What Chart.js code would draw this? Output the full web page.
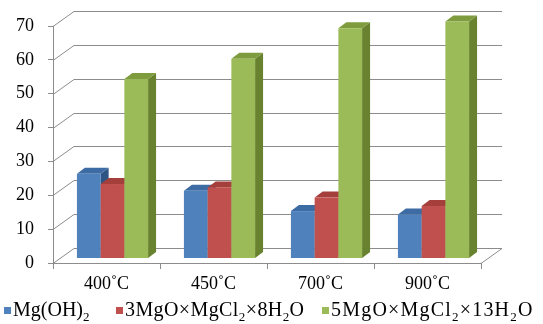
<!DOCTYPE html>
<html>
<head>
<meta charset="utf-8">
<script src="https://cdn.jsdelivr.net/npm/chart.js@4/dist/chart.umd.min.js"></script>
<style>
    html, body { margin: 0; padding: 0; background: #fff; }
    #wrap { position: relative; width: 543px; height: 324px; }
    .legend-item { position: absolute; top: 298px; font-family: 'Liberation Serif', 'Times New Roman', serif; font-size: 20px; line-height: 22px; color: #000; white-space: nowrap; }
    .legend-item i { display: inline-block; width: 7px; height: 7px; margin-right: 2px; vertical-align: 2px; }
    .legend-item sub { font-size: 13px; vertical-align: -5px; line-height: 0; }
</style>
</head>
<body>
<div id="wrap">
    <canvas id="chart" width="543" height="324"></canvas>
    <div class="legend-item" style="left:4px"><i style="background:#4F81BD"></i>Mg(OH)<sub>2</sub></div>
    <div class="legend-item" style="left:116px; letter-spacing: 0.4px"><i style="background:#C0504D"></i>3MgO×MgCl<sub>2</sub>×8H<sub>2</sub>O</div>
    <div class="legend-item" style="left:322px; letter-spacing: 1.2px"><i style="background:#9BBB59"></i>5MgO×MgCl<sub>2</sub>×13H<sub>2</sub>O</div>
</div>
<script>
const temperatures = ['400\u02DAC', '450\u02DAC', '700\u02DAC', '900\u02DAC'];
const mgOH2 = [25, 20, 14, 13];
const phase3 = [22, 21, 18, 15.5];
const phase5 = [53, 59, 68, 70];

const seriesNames = ['Mg(OH)2', '3MgO×MgCl2×8H2O', '5MgO×MgCl2×13H2O'];
// front, top, side
const faceColors = [
    ['#4F81BD', '#3D6BA3', '#2E5483'],
    ['#C0504D', '#A53F3C', '#8C3431'],
    ['#9BBB59', '#7E9C3E', '#68822F']
];

const gridColor = '#8c8c8c';
const wall = { dx: 21, dy: -15 };     // depth of back wall
const barShift = { dx: 6, dy: -4.5 }; // bar front plane
const barDepth = { dx: 8, dy: -6 };

const fake3d = {
    id: 'fake3d',
    beforeDatasetsDraw(chart) {
        const ctx = chart.ctx;
        const area = chart.chartArea;
        const yScale = chart.scales.y;

        // back wall + left wall lines
        ctx.save();
        ctx.strokeStyle = gridColor;
        ctx.lineWidth = 1;
        yScale.ticks.forEach(t => {
            const y = Math.round(yScale.getPixelForValue(t.value)) + 0.5;
            ctx.beginPath();
            ctx.moveTo(area.left, y);
            ctx.lineTo(area.left + wall.dx, y + wall.dy);
            ctx.lineTo(area.right + wall.dx, y + wall.dy);
            ctx.stroke();
        });
        const y0 = Math.round(yScale.getPixelForValue(0)) + 0.5;
        ctx.beginPath();
        ctx.moveTo(area.right, y0);
        ctx.lineTo(area.right + wall.dx, y0 + wall.dy);
        ctx.stroke();
        ctx.restore();

        // bars, left to right so faces overlap correctly
        const metas = chart.data.datasets.map((d, i) => chart.getDatasetMeta(i));
        const n = chart.data.labels.length;
        for (let j = 0; j < n; j++) {
            metas.forEach((meta, i) => {
                const bar = meta.data[j];
                const left = bar.x - bar.width / 2 + barShift.dx;
                const right = bar.x + bar.width / 2 + barShift.dx;
                const top = bar.y + barShift.dy;
                const bottom = bar.base + barShift.dy;
                const [front, topC, side] = faceColors[i];

                ctx.fillStyle = side;
                ctx.beginPath();
                ctx.moveTo(right, top);
                ctx.lineTo(right + barDepth.dx, top + barDepth.dy);
                ctx.lineTo(right + barDepth.dx, bottom + barDepth.dy);
                ctx.lineTo(right, bottom);
                ctx.closePath();
                ctx.fill();

                ctx.fillStyle = topC;
                ctx.beginPath();
                ctx.moveTo(left, top);
                ctx.lineTo(left + barDepth.dx, top + barDepth.dy);
                ctx.lineTo(right + barDepth.dx, top + barDepth.dy);
                ctx.lineTo(right, top);
                ctx.closePath();
                ctx.fill();

                ctx.fillStyle = front;
                ctx.fillRect(left, top, right - left, bottom - top);
            });
        }
        return false;
    }
};

const font = { family: "'Liberation Serif', 'Times New Roman', serif", size: 18 };

new Chart(document.getElementById('chart'), {
    type: 'bar',
    data: {
        labels: temperatures,
        datasets: [
            { label: seriesNames[0], data: mgOH2, backgroundColor: faceColors[0][0] },
            { label: seriesNames[1], data: phase3, backgroundColor: faceColors[1][0] },
            { label: seriesNames[2], data: phase5, backgroundColor: faceColors[2][0] }
        ]
    },
    options: {
        responsive: false,
        animation: false,
        layout: { padding: { top: 26, right: 62, bottom: 0, left: 0 } },
        datasets: { bar: { categoryPercentage: 0.665, barPercentage: 1.0 } },
        scales: {
            x: {
                afterFit: scale => { scale.height = 61; },
                grid: { display: true, drawOnChartArea: false, drawTicks: true, tickLength: 6, color: gridColor, offset: true },
                border: { display: true, color: gridColor },
                ticks: { color: '#000', font, padding: 4 }
            },
            y: {
                min: 0,
                max: 70,
                afterFit: scale => { scale.width = 53; },
                grid: { display: true, drawOnChartArea: false, drawTicks: true, tickLength: 5, color: gridColor },
                border: { display: true, color: gridColor },
                ticks: { stepSize: 10, color: '#000', font, padding: 14 }
            }
        },
        plugins: {
            legend: { display: false },
            tooltip: { enabled: false }
        }
    },
    plugins: [fake3d]
});
</script>
</body>
</html>
